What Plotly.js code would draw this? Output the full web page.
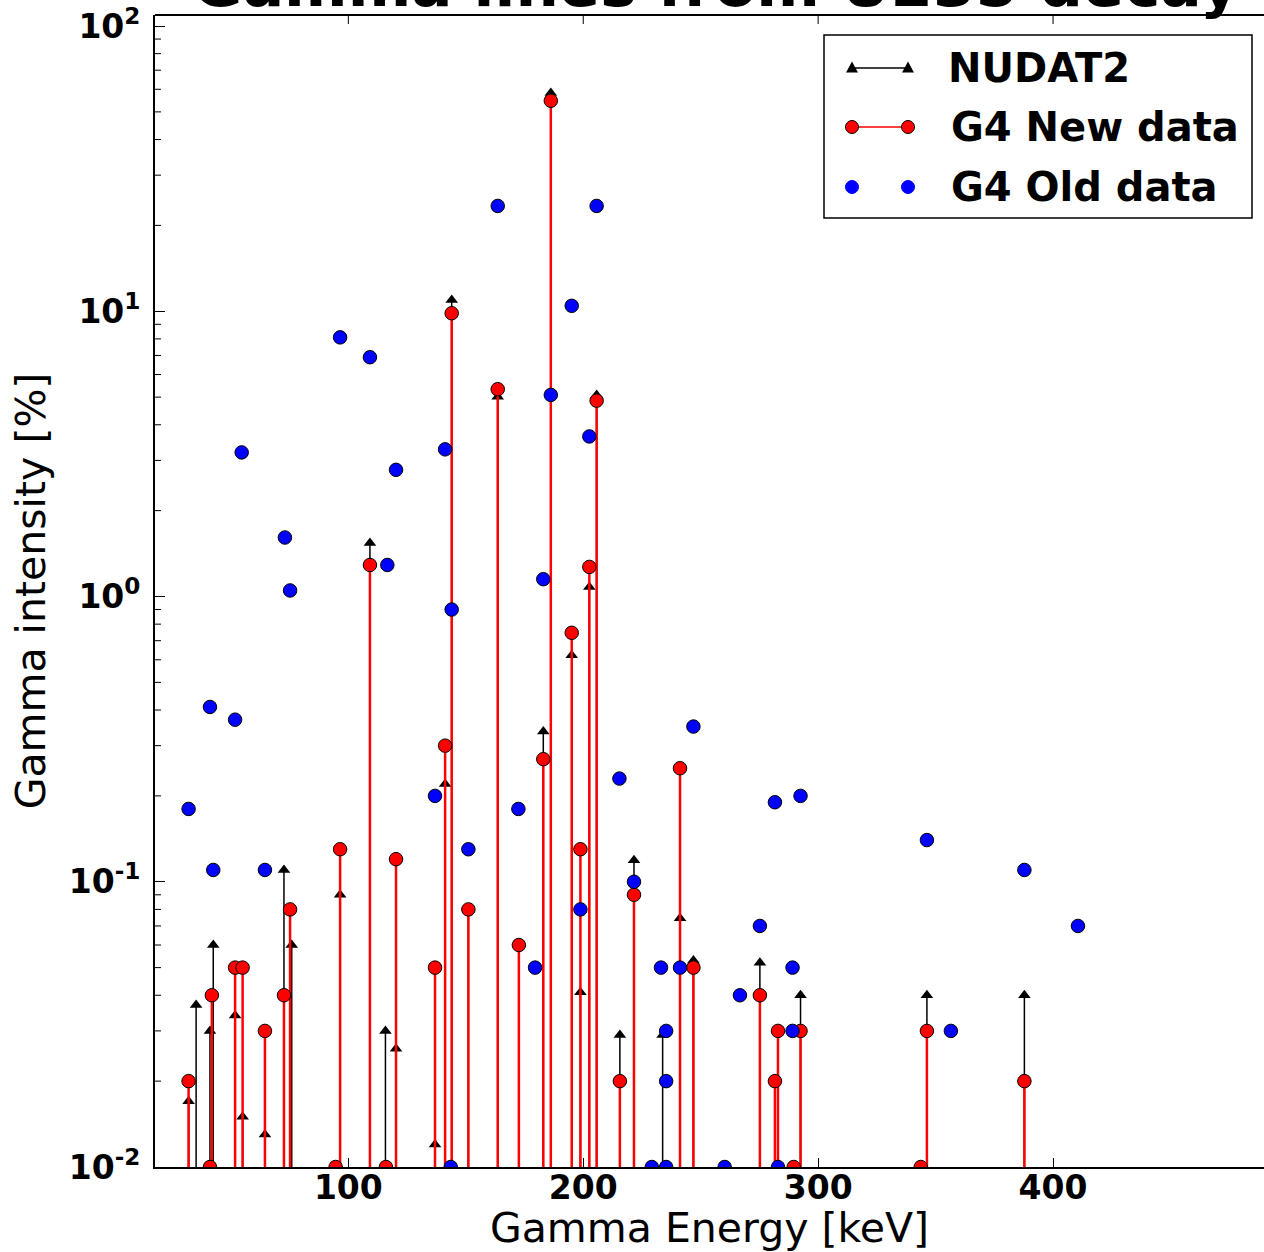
<!DOCTYPE html>
<html>
<head>
<meta charset="utf-8">
<script src="https://cdn.plot.ly/plotly-3.0.1.min.js"></script>
<style>html,body{margin:0;padding:0;background:#fff;}#chart{width:1264px;height:1252px;}</style>
</head>
<body>
<div id="chart"></div>
<script>
// NUDAT2 reference lines (energy keV, intensity %)
const nudatE = [32.0, 35.2, 41.1, 42.5, 51.8, 55.0, 64.5, 72.6, 75.9, 96.5, 109.2, 115.8, 120.3, 136.9, 141.2, 144.0, 151.1, 163.6, 172.6, 183.0, 186.2, 195.1, 198.8, 202.6, 205.7, 215.6, 221.6, 233.8, 241.2, 246.9, 275.2, 292.5, 346.3, 387.8];
const nudatI = [0.017, 0.037, 0.03, 0.06, 0.034, 0.015, 0.013, 0.11, 0.06, 0.09, 1.54, 0.03, 0.026, 0.012, 0.22, 10.96, 0.08, 5.02, 0.06, 0.336, 58.2, 0.623, 0.041, 1.08, 5.09, 0.029, 0.119, 0.029, 0.0745, 0.053, 0.052, 0.04, 0.04, 0.04];
// G4 new data
const newE = [32.0, 41.1, 41.9, 51.8, 55.0, 64.5, 72.6, 75.2, 94.6, 96.5, 109.2, 116.0, 120.3, 136.9, 141.2, 144.0, 151.1, 163.6, 172.6, 183.0, 186.2, 195.1, 198.8, 202.6, 205.7, 215.6, 221.6, 241.2, 246.9, 275.2, 281.6, 282.9, 289.6, 292.5, 343.7, 346.3, 387.8];
const newI = [0.02, 0.01, 0.04, 0.05, 0.05, 0.03, 0.04, 0.08, 0.01, 0.13, 1.29, 0.01, 0.12, 0.05, 0.30, 9.84, 0.08, 5.33, 0.06, 0.269, 54.7, 0.746, 0.13, 1.27, 4.86, 0.02, 0.09, 0.25, 0.05, 0.04, 0.02, 0.03, 0.01, 0.03, 0.01, 0.03, 0.02];
// G4 old data
const oldE = [32.0, 41.1, 42.5, 51.8, 54.6, 64.5, 73.0, 75.2, 96.5, 109.2, 116.6, 120.3, 136.9, 141.2, 143.6, 144.0, 151.1, 163.6, 172.4, 179.5, 183.0, 186.2, 195.1, 198.8, 202.6, 205.7, 215.4, 221.6, 229.2, 233.1, 235.3, 235.3, 235.3, 241.2, 246.9, 260.2, 266.7, 275.2, 281.6, 282.9, 289.1, 289.1, 292.5, 346.3, 356.5, 387.8, 410.6];
const oldI = [0.18, 0.41, 0.11, 0.37, 3.2, 0.11, 1.61, 1.05, 8.1, 6.9, 1.29, 2.78, 0.20, 3.28, 0.01, 0.90, 0.13, 23.4, 0.18, 0.05, 1.15, 5.09, 10.45, 0.08, 3.64, 23.4, 0.23, 0.10, 0.01, 0.05, 0.03, 0.02, 0.01, 0.05, 0.35, 0.01, 0.04, 0.07, 0.19, 0.01, 0.05, 0.03, 0.20, 0.14, 0.03, 0.11, 0.07];
// tick labels / tick positions
const yTickVals = [0.01, 0.1, 1, 10, 100];
const yTickText = ['10<sup>-2</sup>', '10<sup>-1</sup>', '10<sup>0</sup>', '10<sup>1</sup>', '10<sup>2</sup>'];
const yMinorVals = [0.02,0.03,0.04,0.05,0.06,0.07,0.08,0.09, 0.2,0.3,0.4,0.5,0.6,0.7,0.8,0.9, 2,3,4,5,6,7,8,9, 20,30,40,50,60,70,80,90];
const xTickVals = [100, 200, 300, 400];
const seriesNames = ['NUDAT2', 'G4 New data', 'G4 Old data'];

const BASE = 1e-3; // stems start below the visible axis floor

function stems(E, I) {
  const x = [], y = [];
  for (let i = 0; i < E.length; i++) {
    x.push(E[i], E[i], null);
    y.push(BASE, I[i], null);
  }
  return {x, y};
}

const n = stems(nudatE, nudatI);
const g = stems(newE, newI);

const traces = [
  {
    x: n.x, y: n.y, type: 'scatter', mode: 'lines+markers', name: seriesNames[0],
    connectgaps: false, cliponaxis: true,
    line: {color: '#000000', width: 1.5},
    marker: {symbol: 'triangle-up', size: 11, color: '#000000', opacity: 1, line: {width: 0}}
  },
  {
    x: g.x, y: g.y, type: 'scatter', mode: 'lines+markers', name: seriesNames[1],
    connectgaps: false, cliponaxis: true,
    line: {color: '#ff0000', width: 2.5},
    marker: {symbol: 'circle', size: 13.5, color: '#ff0000', opacity: 1, line: {color: '#000000', width: 1}}
  },
  {
    x: oldE, y: oldI, type: 'scatter', mode: 'markers', name: seriesNames[2], cliponaxis: true,
    marker: {symbol: 'circle', size: 13.5, color: '#0000ff', opacity: 1, line: {color: '#000000', width: 1}}
  }
];

// ---- decorations: top spine + top ticks, minor y ticks, matplotlib-style legend box ----
const shapes = [];
const annotations = [];
shapes.push({type: 'line', xref: 'paper', yref: 'paper', x0: 0, x1: 1, y0: 1, y1: 1, line: {color: '#000000', width: 2}, layer: 'above'});
xTickVals.forEach(v => shapes.push({
  type: 'line', xref: 'x', yref: 'paper', x0: v, x1: v, ysizemode: 'pixel', yanchor: 1, y0: 0, y1: -9,
  line: {color: '#000000', width: 1}, layer: 'above'
}));
yMinorVals.forEach(v => shapes.push({
  type: 'line', xref: 'paper', yref: 'y', xsizemode: 'pixel', xanchor: 0, x0: 0, x1: 6, y0: v, y1: v,
  line: {color: '#000000', width: 1}, layer: 'above'
}));

// legend box in pixel layout converted to paper fractions
const PL = 155, PW = 1109, PB = 1167, PH = 1152;
const px = v => (v - PL) / PW;
const py = v => (PB - v) / PH;
shapes.push({type: 'rect', xref: 'paper', yref: 'paper', x0: px(824), x1: px(1252), y0: py(218), y1: py(35),
  line: {color: '#000000', width: 1.5}, fillcolor: '#ffffff', layer: 'above'});
const rows = [68, 127, 187];
const gx0 = 852, gx1 = 908;
// row 1: NUDAT2
shapes.push({type: 'line', xref: 'paper', yref: 'paper', x0: px(gx0), x1: px(gx1), y0: py(rows[0]), y1: py(rows[0]), line: {color: '#000000', width: 1.5}, layer: 'above'});
[gx0, gx1].forEach(xx => shapes.push({type: 'path', xref: 'paper', yref: 'paper', xsizemode: 'pixel', ysizemode: 'pixel',
  xanchor: px(xx), yanchor: py(rows[0]), path: 'M-6,-4.5 L6,-4.5 L0,6.5 Z', fillcolor: '#000000', line: {width: 0}, layer: 'above'}));
// row 2: G4 New data
shapes.push({type: 'line', xref: 'paper', yref: 'paper', x0: px(gx0), x1: px(gx1), y0: py(rows[1]), y1: py(rows[1]), line: {color: '#ff0000', width: 1.5}, layer: 'above'});
[gx0, gx1].forEach(xx => shapes.push({type: 'circle', xref: 'paper', yref: 'paper', xsizemode: 'pixel', ysizemode: 'pixel',
  xanchor: px(xx), yanchor: py(rows[1]), x0: -6.5, x1: 6.5, y0: -6.5, y1: 6.5, fillcolor: '#ff0000', line: {color: '#000000', width: 1}, layer: 'above'}));
// row 3: G4 Old data
[gx0, gx1].forEach(xx => shapes.push({type: 'circle', xref: 'paper', yref: 'paper', xsizemode: 'pixel', ysizemode: 'pixel',
  xanchor: px(xx), yanchor: py(rows[2]), x0: -6.5, x1: 6.5, y0: -6.5, y1: 6.5, fillcolor: '#0000ff', line: {color: '#0000ff', width: 1}, layer: 'above'}));
seriesNames.forEach((name, i) => annotations.push({
  xref: 'paper', yref: 'paper', x: px(i === 0 ? 946 : 949), y: py(rows[i]), xanchor: 'left', yanchor: 'middle',
  text: '<b>' + name + '</b>', showarrow: false,
  font: {family: 'DejaVu Sans', size: 40, color: '#000000'}
}));

const layout = {
  width: 1264, height: 1252,
  margin: {l: 155, r: 0, t: 15, b: 85},
  paper_bgcolor: '#ffffff', plot_bgcolor: '#ffffff',
  font: {family: 'DejaVu Sans', color: '#000000'},
  showlegend: false,
  title: {
    text: '<b>Gamma lines from U235 decay</b>',
    font: {family: 'DejaVu Sans', size: 61, color: '#000000'},
    xref: 'paper', x: 0.506, xanchor: 'center',
    yref: 'container', y: 0.995, yanchor: 'bottom'
  },
  xaxis: {
    range: [17.7, 489.8], type: 'linear',
    showline: true, linecolor: '#000000', linewidth: 2, mirror: false,
    ticks: 'inside', ticklen: 9, tickwidth: 1, tickcolor: '#000000',
    tickvals: xTickVals, showgrid: false, zeroline: false,
    tickfont: {family: 'DejaVu Sans', size: 33, weight: 'bold', color: '#000000'},
    ticklabelstandoff: -10,
    title: {text: 'Gamma Energy [keV]', font: {family: 'DejaVu Sans', size: 41, color: '#000000'}, standoff: 14}
  },
  yaxis: {
    type: 'log', range: [-2, 2.0386],
    showline: true, linecolor: '#000000', linewidth: 2, mirror: false,
    ticks: 'inside', ticklen: 10, tickwidth: 1, tickcolor: '#000000',
    tickvals: yTickVals, ticktext: yTickText, showgrid: false, zeroline: false,
    tickfont: {family: 'DejaVu Sans', size: 33, weight: 'bold', color: '#000000'},
    ticklabelstandoff: 6,
    title: {text: 'Gamma intensity [%]', font: {family: 'DejaVu Sans', size: 41, color: '#000000'}, standoff: 10}
  },
  shapes: shapes,
  annotations: annotations
};

Plotly.newPlot('chart', traces, layout, {displayModeBar: false, staticPlot: true});
</script>
</body>
</html>
